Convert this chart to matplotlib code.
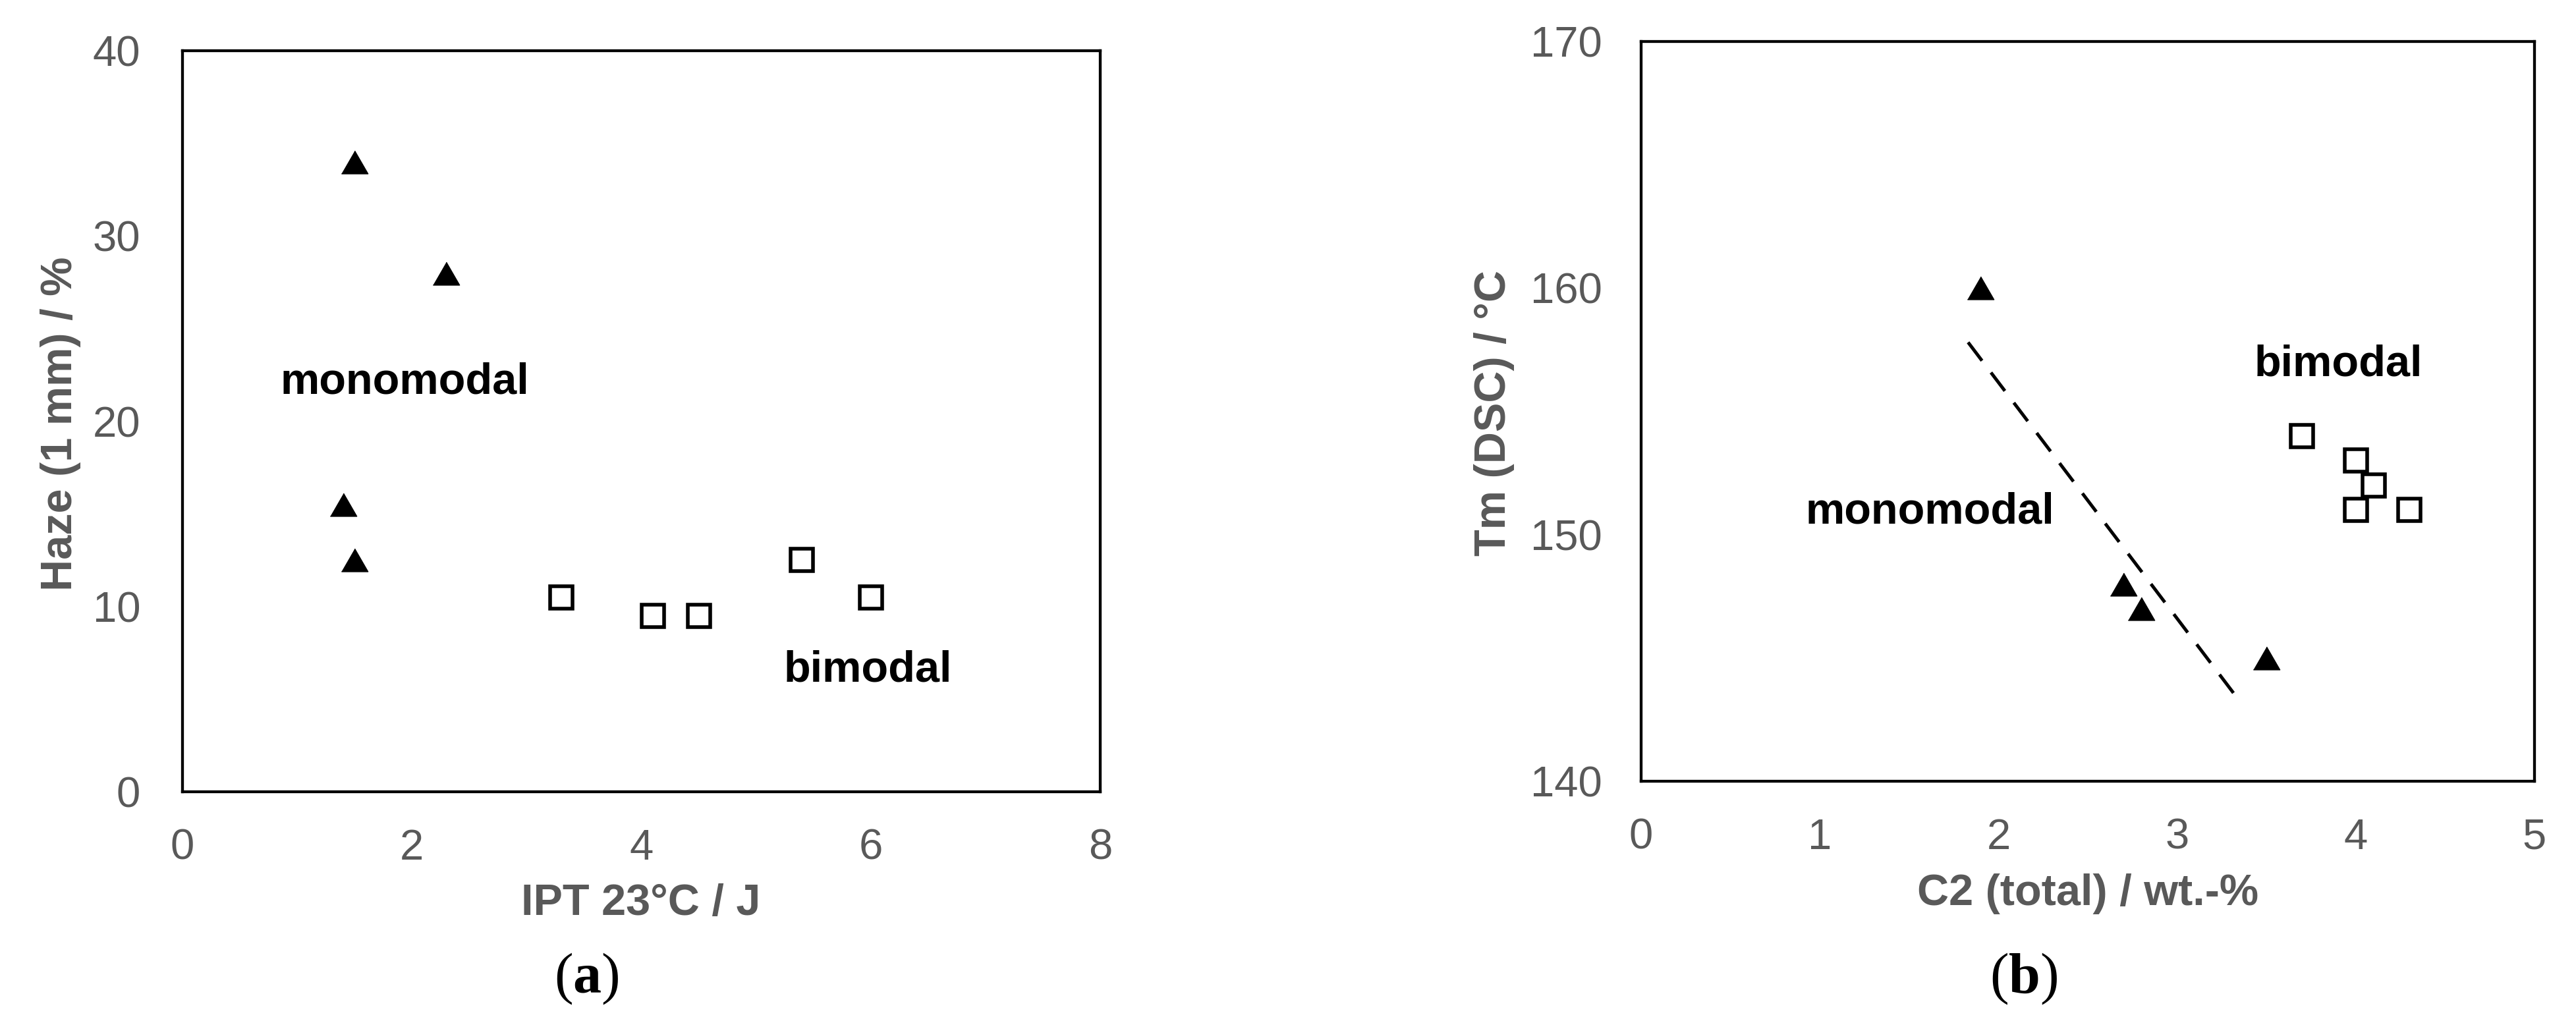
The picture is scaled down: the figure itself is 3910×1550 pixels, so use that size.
import matplotlib
matplotlib.use("Agg")
import matplotlib.pyplot as plt

# ------------------------------------------------------------------
# Donnees
# ------------------------------------------------------------------
# (a) Haze vs IPT 23 C
tri_a_x = [1.5, 2.3, 1.4, 1.5]
tri_a_y = [34.0, 28.0, 15.5, 12.5]
sq_a_x = [3.3, 4.1, 4.5, 5.4, 6.0]
sq_a_y = [10.5, 9.5, 9.5, 12.5, 10.5]

# (b) Tm vs C2 total
tri_b_x = [1.9, 2.7, 2.8, 3.5]
tri_b_y = [160.0, 148.0, 147.0, 145.0]
sq_b_x = [3.7, 4.0, 4.1, 4.0, 4.3]
sq_b_y = [154.0, 153.0, 152.0, 151.0, 151.0]
trend_b_x = [1.83, 3.36]
trend_b_y = [157.8, 143.15]

xticks_a = [0, 2, 4, 6, 8]
yticks_a = [0, 10, 20, 30, 40]
xticks_b = [0, 1, 2, 3, 4, 5]
yticks_b = [140, 150, 160, 170]

# ------------------------------------------------------------------
# Style
# ------------------------------------------------------------------
W, H = 3910, 1550
GRIS = "#595959"
plt.rcParams["font.family"] = ["Liberation Sans", "DejaVu Sans"]
plt.rcParams["mathtext.fontset"] = "custom"
plt.rcParams["mathtext.rm"] = "Liberation Serif"
plt.rcParams["mathtext.bf"] = "Liberation Serif:bold"

TRI = [(-1, -0.866), (1, -0.866), (0, 0.866)]


def px_axes(fig, x0, y0, x1, y1):
    return fig.add_axes([x0 / W, 1 - y1 / H, (x1 - x0) / W, (y1 - y0) / H])


def style_axes(ax, xt, yt, xpad, ypad):
    ax.set_xticks(xt)
    ax.set_yticks(yt)
    ax.set_xlim(xt[0], xt[-1])
    ax.set_ylim(yt[0], yt[-1])
    ax.tick_params(axis="both", length=0, labelsize=47, labelcolor=GRIS)
    ax.tick_params(axis="x", pad=xpad)
    ax.tick_params(axis="y", pad=ypad)
    for s in ax.spines.values():
        s.set_linewidth(3.1)
        s.set_color("black")


fig = plt.figure(figsize=(W / 100, H / 100), dpi=100)

# ---------------- (a) ----------------
ax1 = px_axes(fig, 277, 77, 1670, 1202)
ax1.plot(tri_a_x, tri_a_y, linestyle="none", marker=TRI, markersize=29,
         color="black")
ax1.plot(sq_a_x, sq_a_y, linestyle="none", marker="s", markersize=24,
         markerfacecolor="white", markeredgecolor="black", markeredgewidth=4)
ax1.text(0.85, 21.5, "monomodal", fontsize=48, fontweight="bold",
         color="black", ha="left", va="baseline")
ax1.text(5.24, 5.95, "bimodal", fontsize=48, fontweight="bold",
         color="black", ha="left", va="baseline")
style_axes(ax1, xticks_a, yticks_a, 40, 46)

fig.text(92 / W, 1 - 643 / H, "Haze (1 mm) / %", rotation=90, fontsize=48,
         fontweight="bold", color=GRIS, ha="center", va="center")
fig.text(973 / W, 1 - 1372 / H, "IPT 23°C / J", fontsize=48,
         fontweight="bold", color=GRIS, ha="center", va="center")
fig.text(890 / W, 1 - 1486 / H, r"($\mathbf{a}$)", fontsize=62,
         family="Liberation Serif", color="black", ha="center", va="center")

# ---------------- (b) ----------------
ax2 = px_axes(fig, 2491, 63, 3847, 1186)
ax2.plot(trend_b_x, trend_b_y, color="black", linewidth=3.6,
         linestyle=(0, (7, 4.5)))
ax2.plot(tri_b_x, tri_b_y, linestyle="none", marker=TRI, markersize=29,
         color="black")
ax2.plot(sq_b_x, sq_b_y, linestyle="none", marker="s", markersize=24,
         markerfacecolor="white", markeredgecolor="black", markeredgewidth=4)
ax2.text(0.92, 150.45, "monomodal", fontsize=48, fontweight="bold",
         color="black", ha="left", va="baseline")
ax2.text(3.43, 156.45, "bimodal", fontsize=48, fontweight="bold",
         color="black", ha="left", va="baseline")
style_axes(ax2, xticks_b, yticks_b, 40, 42.5)

fig.text(2268 / W, 1 - 627 / H, "Tm (DSC) / °C", rotation=90, fontsize=48,
         fontweight="bold", color=GRIS, ha="center", va="center")
fig.text(3169 / W, 1 - 1357 / H, "C2 (total) / wt.-%", fontsize=48,
         fontweight="bold", color=GRIS, ha="center", va="center")
fig.text(3072 / W, 1 - 1486 / H, r"($\mathbf{b}$)", fontsize=62,
         family="Liberation Serif", color="black", ha="center", va="center")

fig.savefig("out.png", dpi=100, facecolor="white")
plt.close(fig)
